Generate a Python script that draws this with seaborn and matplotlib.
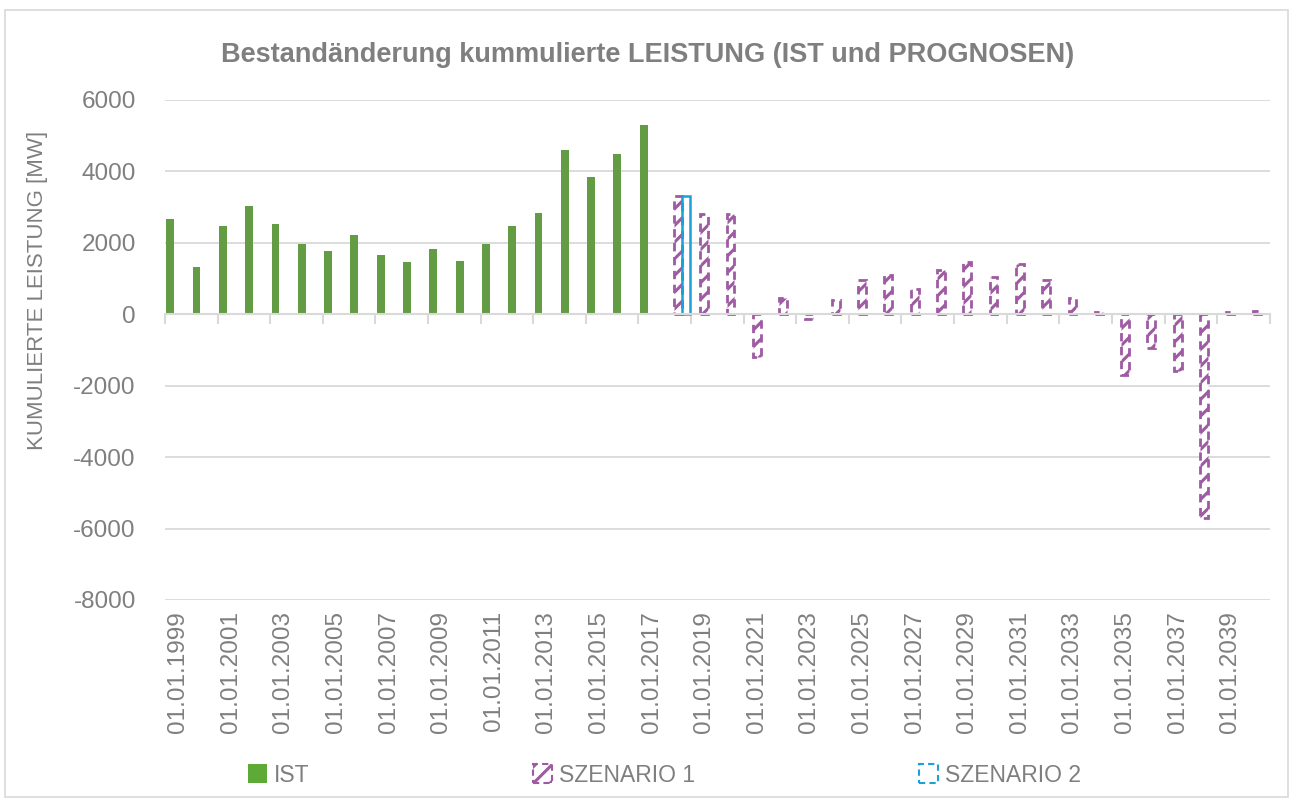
import numpy as np
import pandas as pd
import matplotlib
matplotlib.use('Agg')
import matplotlib.pyplot as plt
from matplotlib.patches import Patch, Rectangle
import seaborn as sns

# data
years = [str(y) for y in range(1999, 2041)]
ist_years = years[:19]
ist_vals = [2665, 1310, 2460, 3040, 2515, 1960, 1785, 2215, 1660, 1455,
            1840, 1495, 1960, 2460, 2845, 4600, 3830, 4480, 5295]
s1_years = years[19:]
s1_vals = [3300, 2800, 2800, -1200, 450, -130, 400, 950, 1100, 700,
           1250, 1450, 1050, 1400, 950, 450, 60, -1700, -950, -1600,
           -5700, 70, 100]
s2_years = ['2018']
s2_vals = [3300]
series = ['IST', 'SZENARIO 1', 'SZENARIO 2']
yticks = [6000, 4000, 2000, 0, -2000, -4000, -6000, -8000]

df = pd.concat([
    pd.DataFrame({'Jahr': ist_years, 'Leistung': ist_vals, 'Serie': series[0]}),
    pd.DataFrame({'Jahr': s1_years, 'Leistung': s1_vals, 'Serie': series[1]}),
    pd.DataFrame({'Jahr': s2_years, 'Leistung': s2_vals, 'Serie': series[2]}),
])

green = '#5EAA36'
purple = '#9E5AA2'
blue = '#1BA0D8'
grey_txt = '#7F7F7F'
grid_c = '#D9D9D9'

sns.set_theme(style='white')
plt.rcParams['font.family'] = ['Liberation Sans', 'DejaVu Sans']
plt.rcParams['axes.unicode_minus'] = False
plt.rcParams['hatch.linewidth'] = 2.2

fig = plt.figure(figsize=(12.93, 8.05), dpi=100)
ax = fig.add_axes([0.1276, 0.2547, 0.8544, 0.6211])

sns.barplot(data=df, x='Jahr', y='Leistung', hue='Serie', order=years,
            hue_order=series, palette=[green, purple, blue], width=0.9,
            dodge=True, errorbar=None, legend=False, ax=ax, zorder=3)

# style each series like the reference
for bar in ax.containers[0]:
    bar.set_edgecolor('none')
for bar in ax.containers[1]:
    bar.set_facecolor('white')
    bar.set_edgecolor(purple)
    bar.set_hatch('//')
    bar.set_linestyle((0, (3, 2)))
    bar.set_linewidth(2)
for bar in ax.containers[2]:
    bar.set_facecolor('none')
    bar.set_edgecolor(blue)
    bar.set_linewidth(1.8)

ax.set_ylim(-8000, 6000)
ax.set_xlim(-0.5, len(years) - 0.5)
ax.set_yticks(yticks)
ax.set_yticklabels([str(v) for v in yticks], color=grey_txt, fontsize=17.5)
ax.tick_params(axis='y', length=0, pad=21)
ax.grid(axis='y', color=grid_c, linewidth=1.3, zorder=0)
for s in ['left', 'right', 'top']:
    ax.spines[s].set_visible(False)

# zero line with tick marks between every second category
ax.spines['bottom'].set_position(('data', 0))
ax.spines['bottom'].set_color(grid_c)
ax.spines['bottom'].set_linewidth(1.5)
ax.spines['bottom'].set_zorder(4)
ax.set_xticks(np.arange(-0.5, len(years), 2))
ax.set_xticklabels([])
ax.tick_params(axis='x', bottom=True, length=7, width=1.5, color=grid_c,
               direction='out')
ax.set_xlabel('')

sec = ax.secondary_xaxis('bottom')
sec.set_xticks(np.arange(0, len(years), 2))
sec.set_xticklabels(['01.01.' + y for y in years[::2]], rotation=90,
                    color=grey_txt, fontsize=17.5)
sec.tick_params(bottom=False, length=0, pad=8)
sec.spines['bottom'].set_visible(False)

ax.set_ylabel('KUMULIERTE LEISTUNG [MW]', color=grey_txt, fontsize=16)
ax.yaxis.set_label_coords(-0.106, 0.62)
fig.text(0.501, 0.932, 'Bestandänderung kummulierte LEISTUNG (IST und PROGNOSEN)',
         ha='center', va='center', color=grey_txt, fontsize=19.5,
         fontweight='bold')

handles = [
    Patch(facecolor=green, edgecolor='none'),
    Patch(facecolor='white', edgecolor=purple, hatch='//', linestyle=(0, (3, 2)), linewidth=1.5),
    Patch(facecolor='none', edgecolor=blue, linestyle=(0, (3, 2)), linewidth=1.5),
]
fig.legend(handles, series, loc='center left', bbox_to_anchor=(0.176, 0.037),
           ncol=3, frameon=False, fontsize=16.5, labelcolor=grey_txt,
           handlelength=0.8, handleheight=0.9, handletextpad=0.3,
           columnspacing=9.8)

fig.patches.append(Rectangle((0.004, 0.01), 0.992, 0.978, transform=fig.transFigure,
                             fill=False, edgecolor=grid_c, linewidth=1.2))

fig.savefig('out.png', dpi=100)
